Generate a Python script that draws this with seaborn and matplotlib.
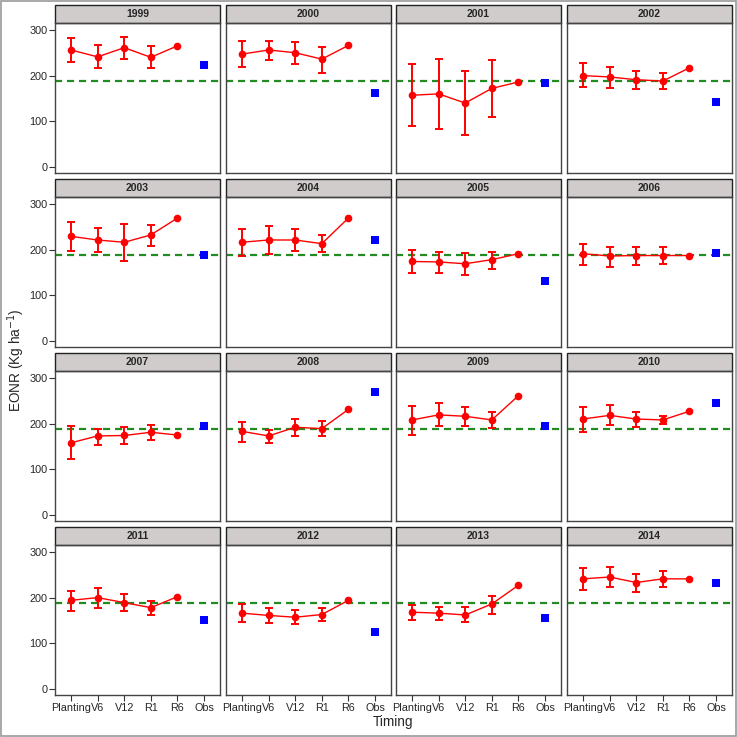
import numpy as np
import pandas as pd
import matplotlib
matplotlib.use('Agg')
import matplotlib.pyplot as plt
from matplotlib.patches import Rectangle
import seaborn as sns

sns.set_style('white')
plt.rcParams['font.family'] = ['Liberation Sans', 'DejaVu Sans']

# data
years = [1999, 2000, 2001, 2002, 2003, 2004, 2005, 2006,
         2007, 2008, 2009, 2010, 2011, 2012, 2013, 2014]
timings = ['Planting', 'V6', 'V12', 'R1', 'R6']
tick_labels = ['Planting', 'V6', 'V12', 'R1', 'R6', 'Obs']

eonr = [
    [256, 241, 261, 240, 265],
    [247, 256, 250, 236, 266],
    [157, 160, 140, 172, 186],
    [200, 197, 191, 188, 217],
    [229, 221, 216, 232, 269],
    [216, 221, 221, 213, 269],
    [174, 173, 169, 178, 191],
    [191, 186, 187, 187, 187],
    [158, 173, 174, 181, 175],
    [183, 173, 192, 189, 231],
    [208, 219, 216, 208, 261],
    [210, 218, 210, 208, 227],
    [194, 200, 189, 178, 202],
    [166, 161, 157, 163, 194],
    [168, 166, 162, 186, 227],
    [241, 245, 233, 241, 241],
]
eonr_low = [
    [230, 216, 236, 216, None],
    [218, 235, 225, 206, None],
    [89, 83, 71, 110, None],
    [175, 173, 170, 170, None],
    [196, 194, 175, 208, None],
    [186, 190, 197, 194, None],
    [149, 149, 144, 158, None],
    [166, 162, 167, 169, None],
    [122, 154, 155, 164, None],
    [160, 157, 173, 173, None],
    [175, 194, 194, 190, None],
    [182, 196, 193, 199, None],
    [171, 178, 170, 161, None],
    [147, 144, 142, 149, None],
    [151, 151, 146, 165, None],
    [217, 223, 212, 223, None],
]
eonr_high = [
    [283, 266, 285, 264, None],
    [275, 276, 274, 263, None],
    [226, 236, 209, 233, None],
    [228, 219, 210, 205, None],
    [261, 248, 255, 253, None],
    [246, 251, 244, 232, None],
    [200, 194, 192, 195, None],
    [213, 206, 205, 206, None],
    [194, 188, 193, 198, None],
    [204, 186, 210, 205, None],
    [239, 245, 237, 225, None],
    [237, 240, 226, 216, None],
    [215, 221, 207, 192, None],
    [186, 178, 172, 178, None],
    [184, 180, 179, 204, None],
    [264, 266, 252, 258, None],
]
observed = [223, 161, 183, 143, 188, 220, 131, 192,
            195, 269, 194, 245, 152, 124, 156, 231]
reference_eonr = 188

rows = []
for i, yr in enumerate(years):
    for j, t in enumerate(timings):
        rows.append({'year': yr, 'pos': j, 'eonr': eonr[i][j],
                     'lo': eonr_low[i][j], 'hi': eonr_high[i][j]})
df = pd.DataFrame(rows)
obs_df = pd.DataFrame({'year': years, 'pos': len(timings), 'eonr': observed})

W = H = 737
fig = plt.figure(figsize=(W / 100, H / 100), dpi=100)

col_left = [55, 226, 396, 567]
row_top = [23, 197, 371, 545]
pw, ph, sh = 165, 150, 18

for k, yr in enumerate(years):
    r, c = divmod(k, 4)
    ax = fig.add_axes([col_left[c] / W, 1 - (row_top[r] + ph) / H, pw / W, ph / H])
    d = df[df['year'] == yr]
    eb = d.dropna(subset=['lo'])
    ax.errorbar(eb['pos'], eb['eonr'], yerr=[eb['eonr'] - eb['lo'], eb['hi'] - eb['eonr']],
                fmt='none', ecolor='red', elinewidth=1.4, capsize=2.8, capthick=1.4, zorder=3)
    sns.lineplot(data=d, x='pos', y='eonr', color='red', lw=1.0, marker='o',
                 markersize=5.5, markeredgewidth=0, ax=ax, zorder=4)
    sns.scatterplot(data=obs_df[obs_df['year'] == yr], x='pos', y='eonr', color='blue',
                    marker='s', s=30, linewidth=0, ax=ax, zorder=4)
    ax.axhline(reference_eonr, color='#228B22', lw=1.6, ls=(0, (3.2, 2.2)), zorder=2)

    ax.set_xlim(-0.6, 5.6)
    ax.set_ylim(-13, 315)
    ax.set_xticks(range(6))
    ax.set_yticks([0, 100, 200, 300])
    ax.set_xlabel('')
    ax.set_ylabel('')
    ax.tick_params(direction='out', length=4, width=0.8, color='#333333',
                   labelsize=7.8, pad=1.5,
                   left=(c == 0), labelleft=(c == 0),
                   bottom=(r == 3), labelbottom=(r == 3))
    ax.set_xticklabels(tick_labels)
    for s in ax.spines.values():
        s.set_color('#444444')
        s.set_linewidth(1.0)

    # strip on top of the panel
    ax.add_patch(Rectangle((0, 1), 1, sh / ph, transform=ax.transAxes, clip_on=False,
                           facecolor='#D0CCCC', edgecolor='#222222', lw=1.0))
    ax.text(0.5, 1 + sh / ph / 2, str(yr), transform=ax.transAxes, ha='center',
            va='center', fontsize=7.5, fontweight='bold')

fig.text(393 / W, 1 - 722 / H, 'Timing', ha='center', va='center', fontsize=9.8)
fig.text(16 / W, 1 - 360 / H, 'EONR (Kg ha$^{-1}$)', ha='center', va='center',
         rotation=90, fontsize=9.8)

fig.add_artist(Rectangle((0.001, 0.001), 0.997, 0.997, transform=fig.transFigure,
                         fill=False, edgecolor='#999999', lw=1.2))

fig.savefig('out.png', dpi=100)
